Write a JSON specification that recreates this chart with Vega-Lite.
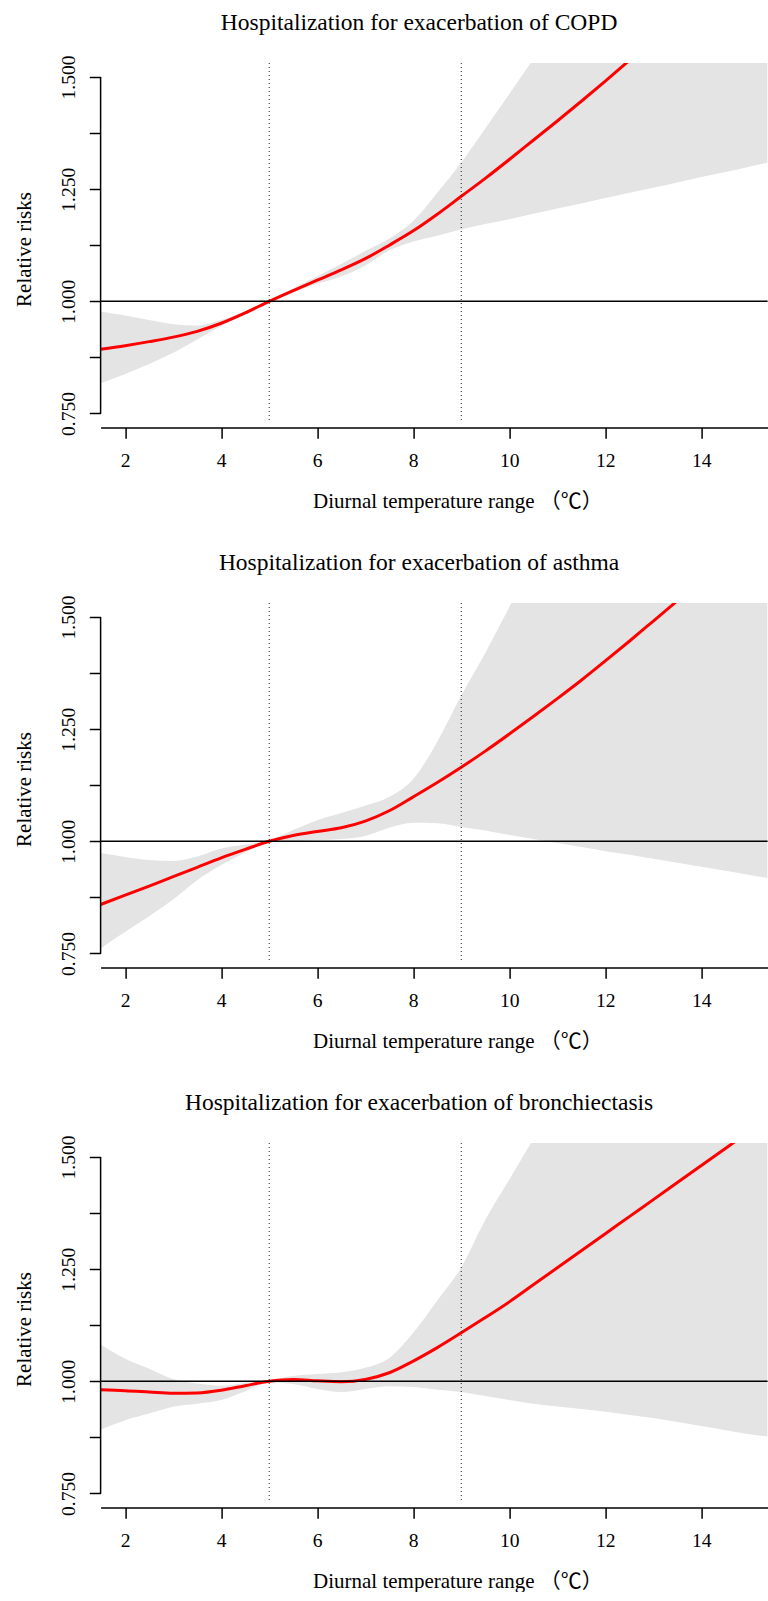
{
  "$schema": "https://vega.github.io/schema/vega-lite/v6.json",
  "background": "white",
  "padding": {"left": 13.6, "top": 11, "right": 0, "bottom": 0},
  "config": {
    "view": {"stroke": null},
    "font": "Liberation Serif",
    "axis": {"grid": false, "domainColor": "black", "tickColor": "black", "labelColor": "black", "titleColor": "black", "labelFont": "Liberation Serif", "titleFont": "Liberation Serif, Noto Sans CJK SC", "labelFontSize": 19.6, "titleFontSize": 21, "titleFontWeight": "normal", "tickWidth": 1.5, "domainWidth": 1.5},
    "title": {"font": "Liberation Serif", "fontSize": 23.5, "fontWeight": "normal", "color": "black", "anchor": "middle", "frame": "group", "baseline": "alphabetic", "offset": 20, "dx": -15}
  },
  "datasets": {
    "curves": [
      {"panel":"COPD","x":1.488,"rr":0.893,"lo":0.817,"hi":0.977},
      {"panel":"COPD","x":2,"rr":0.901,"lo":0.838,"hi":0.968},
      {"panel":"COPD","x":2.5,"rr":0.910,"lo":0.860,"hi":0.958},
      {"panel":"COPD","x":3,"rr":0.920,"lo":0.885,"hi":0.949},
      {"panel":"COPD","x":3.5,"rr":0.933,"lo":0.915,"hi":0.946},
      {"panel":"COPD","x":4,"rr":0.951,"lo":0.945,"hi":0.958},
      {"panel":"COPD","x":4.5,"rr":0.974,"lo":0.971,"hi":0.978},
      {"panel":"COPD","x":5,"rr":1.000,"lo":0.998,"hi":1.002},
      {"panel":"COPD","x":5.5,"rr":1.024,"lo":1.020,"hi":1.029},
      {"panel":"COPD","x":6,"rr":1.047,"lo":1.039,"hi":1.056},
      {"panel":"COPD","x":6.5,"rr":1.070,"lo":1.055,"hi":1.083},
      {"panel":"COPD","x":7,"rr":1.095,"lo":1.080,"hi":1.112},
      {"panel":"COPD","x":7.5,"rr":1.125,"lo":1.113,"hi":1.140},
      {"panel":"COPD","x":8,"rr":1.157,"lo":1.133,"hi":1.179},
      {"panel":"COPD","x":8.5,"rr":1.194,"lo":1.146,"hi":1.242},
      {"panel":"COPD","x":9,"rr":1.234,"lo":1.160,"hi":1.309},
      {"panel":"COPD","x":9.5,"rr":1.274,"lo":1.172,"hi":1.385},
      {"panel":"COPD","x":10,"rr":1.316,"lo":1.183,"hi":1.462},
      {"panel":"COPD","x":10.5,"rr":1.359,"lo":1.195,"hi":1.540},
      {"panel":"COPD","x":11,"rr":1.402,"lo":1.207,"hi":1.618},
      {"panel":"COPD","x":11.5,"rr":1.446,"lo":1.218,"hi":1.696},
      {"panel":"COPD","x":12,"rr":1.491,"lo":1.230,"hi":1.774},
      {"panel":"COPD","x":12.5,"rr":1.537,"lo":1.242,"hi":1.852},
      {"panel":"COPD","x":13,"rr":1.584,"lo":1.253,"hi":1.930},
      {"panel":"COPD","x":13.5,"rr":1.632,"lo":1.265,"hi":2.008},
      {"panel":"COPD","x":14,"rr":1.681,"lo":1.277,"hi":2.086},
      {"panel":"COPD","x":14.5,"rr":1.731,"lo":1.288,"hi":2.164},
      {"panel":"COPD","x":15,"rr":1.782,"lo":1.300,"hi":2.242},
      {"panel":"COPD","x":15.38,"rr":1.821,"lo":1.309,"hi":2.300},
      {"panel":"asthma","x":1.488,"rr":0.859,"lo":0.761,"hi":0.974},
      {"panel":"asthma","x":2,"rr":0.880,"lo":0.798,"hi":0.965},
      {"panel":"asthma","x":2.5,"rr":0.900,"lo":0.833,"hi":0.958},
      {"panel":"asthma","x":3,"rr":0.921,"lo":0.870,"hi":0.956},
      {"panel":"asthma","x":3.5,"rr":0.942,"lo":0.913,"hi":0.966},
      {"panel":"asthma","x":4,"rr":0.963,"lo":0.947,"hi":0.984},
      {"panel":"asthma","x":4.5,"rr":0.982,"lo":0.975,"hi":0.993},
      {"panel":"asthma","x":5,"rr":1.000,"lo":0.998,"hi":1.002},
      {"panel":"asthma","x":5.5,"rr":1.013,"lo":1.000,"hi":1.025},
      {"panel":"asthma","x":6,"rr":1.022,"lo":1.002,"hi":1.047},
      {"panel":"asthma","x":6.5,"rr":1.030,"lo":1.005,"hi":1.063},
      {"panel":"asthma","x":7,"rr":1.045,"lo":1.012,"hi":1.079},
      {"panel":"asthma","x":7.5,"rr":1.068,"lo":1.030,"hi":1.099},
      {"panel":"asthma","x":8,"rr":1.099,"lo":1.041,"hi":1.139},
      {"panel":"asthma","x":8.5,"rr":1.131,"lo":1.040,"hi":1.222},
      {"panel":"asthma","x":9,"rr":1.165,"lo":1.032,"hi":1.325},
      {"panel":"asthma","x":9.5,"rr":1.201,"lo":1.024,"hi":1.420},
      {"panel":"asthma","x":10,"rr":1.239,"lo":1.014,"hi":1.522},
      {"panel":"asthma","x":10.5,"rr":1.278,"lo":1.005,"hi":1.620},
      {"panel":"asthma","x":11,"rr":1.318,"lo":0.996,"hi":1.720},
      {"panel":"asthma","x":11.5,"rr":1.359,"lo":0.987,"hi":1.820},
      {"panel":"asthma","x":12,"rr":1.402,"lo":0.978,"hi":1.920},
      {"panel":"asthma","x":12.5,"rr":1.446,"lo":0.970,"hi":2.000},
      {"panel":"asthma","x":13,"rr":1.491,"lo":0.961,"hi":2.100},
      {"panel":"asthma","x":13.5,"rr":1.536,"lo":0.952,"hi":2.200},
      {"panel":"asthma","x":14,"rr":1.581,"lo":0.943,"hi":2.300},
      {"panel":"asthma","x":14.5,"rr":1.626,"lo":0.934,"hi":2.400},
      {"panel":"asthma","x":15,"rr":1.671,"lo":0.925,"hi":2.500},
      {"panel":"asthma","x":15.38,"rr":1.705,"lo":0.918,"hi":2.550},
      {"panel":"bronch","x":1.488,"rr":0.981,"lo":0.892,"hi":1.082},
      {"panel":"bronch","x":2,"rr":0.979,"lo":0.913,"hi":1.050},
      {"panel":"bronch","x":2.5,"rr":0.976,"lo":0.928,"hi":1.028},
      {"panel":"bronch","x":3,"rr":0.973,"lo":0.943,"hi":1.005},
      {"panel":"bronch","x":3.5,"rr":0.974,"lo":0.950,"hi":0.995},
      {"panel":"bronch","x":4,"rr":0.980,"lo":0.958,"hi":0.990},
      {"panel":"bronch","x":4.5,"rr":0.990,"lo":0.978,"hi":0.996},
      {"panel":"bronch","x":5,"rr":1.000,"lo":0.997,"hi":1.003},
      {"panel":"bronch","x":5.5,"rr":1.004,"lo":0.994,"hi":1.012},
      {"panel":"bronch","x":6,"rr":1.001,"lo":0.983,"hi":1.016},
      {"panel":"bronch","x":6.5,"rr":0.999,"lo":0.976,"hi":1.020},
      {"panel":"bronch","x":7,"rr":1.004,"lo":0.983,"hi":1.030},
      {"panel":"bronch","x":7.5,"rr":1.019,"lo":0.989,"hi":1.052},
      {"panel":"bronch","x":8,"rr":1.045,"lo":0.987,"hi":1.108},
      {"panel":"bronch","x":8.5,"rr":1.075,"lo":0.981,"hi":1.180},
      {"panel":"bronch","x":9,"rr":1.108,"lo":0.976,"hi":1.254},
      {"panel":"bronch","x":9.5,"rr":1.142,"lo":0.967,"hi":1.360},
      {"panel":"bronch","x":10,"rr":1.177,"lo":0.958,"hi":1.450},
      {"panel":"bronch","x":10.5,"rr":1.215,"lo":0.950,"hi":1.540},
      {"panel":"bronch","x":11,"rr":1.253,"lo":0.944,"hi":1.630},
      {"panel":"bronch","x":11.5,"rr":1.291,"lo":0.938,"hi":1.720},
      {"panel":"bronch","x":12,"rr":1.329,"lo":0.932,"hi":1.810},
      {"panel":"bronch","x":12.5,"rr":1.367,"lo":0.925,"hi":1.900},
      {"panel":"bronch","x":13,"rr":1.405,"lo":0.918,"hi":2.000},
      {"panel":"bronch","x":13.5,"rr":1.443,"lo":0.909,"hi":2.100},
      {"panel":"bronch","x":14,"rr":1.481,"lo":0.900,"hi":2.200},
      {"panel":"bronch","x":14.5,"rr":1.519,"lo":0.891,"hi":2.300},
      {"panel":"bronch","x":15,"rr":1.557,"lo":0.882,"hi":2.400},
      {"panel":"bronch","x":15.38,"rr":1.586,"lo":0.877,"hi":2.450}
    ]
  },
  "data": {"name": "curves"},
  "spacing": 180,
  "bounds": "flush",
  "vconcat": [
    {
      "title": {"text": "Hospitalization for exacerbation of COPD"},
      "width": 667, "height": 360,
      "layer": [
        {"transform": [{"filter": "datum.panel == 'COPD'"}],
         "mark": {"type": "area", "color": "#e4e4e4", "opacity": 1, "clip": true, "interpolate": "monotone"},
         "encoding": {
           "x": {"field": "x", "type": "quantitative", "title": "Diurnal temperature range （℃）", "scale": {"domain": [1.488, 15.38], "nice": false, "zero": false},
                 "axis": {"values": [2,4,6,8,10,12,14], "offset": 4.5, "tickSize": 10.7, "labelPadding": 28, "labelBaseline": "alphabetic", "labelFlush": false, "titleBaseline": "alphabetic", "titleAlign": "left", "titleY": 80, "titleX": 212}},
           "y": {"field": "lo", "type": "quantitative", "title": "Relative risks", "scale": {"domain": [0.7286, 1.5312], "nice": false, "zero": false},
                 "axis": {"values": [0.75,0.875,1,1.125,1.25,1.375,1.5], "domain": false, "tickSize": 11.3, "labelAngle": 270, "labelAlign": "center", "labelBaseline": "alphabetic", "labelPadding": 14.4, "labelOverlap": false, "labelFlush": false, "labelExpr": "(datum.value*8)%2==0 ? format(datum.value,'.3f') : ''", "titleAngle": 270, "titleAlign": "center", "titleBaseline": "alphabetic", "titleX": -69.7, "titleY": 186}},
           "y2": {"field": "hi"}
         }},
        {"transform": [{"filter": "datum.panel == 'COPD'"}],
         "mark": {"type": "line", "color": "#ff0000", "strokeWidth": 3, "clip": true, "interpolate": "monotone"},
         "encoding": {"x": {"field": "x", "type": "quantitative", "title": "Diurnal temperature range （℃）"}, "y": {"field": "rr", "type": "quantitative", "title": "Relative risks"}}},
        {"data": {"values": [{}]}, "mark": {"type": "rule", "color": "black", "strokeWidth": 1.5}, "encoding": {"y": {"datum": 1}}},
        {"data": {"values": [{}]}, "mark": {"type": "rule", "color": "#222222", "strokeWidth": 1, "strokeDash": [1, 3]}, "encoding": {"x": {"datum": 5}}},
        {"data": {"values": [{}]}, "mark": {"type": "rule", "color": "#222222", "strokeWidth": 1, "strokeDash": [1, 3]}, "encoding": {"x": {"datum": 9}}},
        {"data": {"values": [{}]}, "mark": {"type": "rule", "color": "black", "strokeWidth": 1.5}, "encoding": {"x": {"datum": 1.488}, "y": {"datum": 0.75}, "y2": {"datum": 1.5}}}
      ]
    },
    {
      "title": {"text": "Hospitalization for exacerbation of asthma"},
      "width": 667, "height": 360,
      "layer": [
        {"transform": [{"filter": "datum.panel == 'asthma'"}],
         "mark": {"type": "area", "color": "#e4e4e4", "opacity": 1, "clip": true, "interpolate": "monotone"},
         "encoding": {
           "x": {"field": "x", "type": "quantitative", "title": "Diurnal temperature range （℃）", "scale": {"domain": [1.488, 15.38], "nice": false, "zero": false},
                 "axis": {"values": [2,4,6,8,10,12,14], "offset": 4.5, "tickSize": 10.7, "labelPadding": 28, "labelBaseline": "alphabetic", "labelFlush": false, "titleBaseline": "alphabetic", "titleAlign": "left", "titleY": 80, "titleX": 212}},
           "y": {"field": "lo", "type": "quantitative", "title": "Relative risks", "scale": {"domain": [0.7286, 1.5312], "nice": false, "zero": false},
                 "axis": {"values": [0.75,0.875,1,1.125,1.25,1.375,1.5], "domain": false, "tickSize": 11.3, "labelAngle": 270, "labelAlign": "center", "labelBaseline": "alphabetic", "labelPadding": 14.4, "labelOverlap": false, "labelFlush": false, "labelExpr": "(datum.value*8)%2==0 ? format(datum.value,'.3f') : ''", "titleAngle": 270, "titleAlign": "center", "titleBaseline": "alphabetic", "titleX": -69.7, "titleY": 186}},
           "y2": {"field": "hi"}
         }},
        {"transform": [{"filter": "datum.panel == 'asthma'"}],
         "mark": {"type": "line", "color": "#ff0000", "strokeWidth": 3, "clip": true, "interpolate": "monotone"},
         "encoding": {"x": {"field": "x", "type": "quantitative", "title": "Diurnal temperature range （℃）"}, "y": {"field": "rr", "type": "quantitative", "title": "Relative risks"}}},
        {"data": {"values": [{}]}, "mark": {"type": "rule", "color": "black", "strokeWidth": 1.5}, "encoding": {"y": {"datum": 1}}},
        {"data": {"values": [{}]}, "mark": {"type": "rule", "color": "#222222", "strokeWidth": 1, "strokeDash": [1, 3]}, "encoding": {"x": {"datum": 5}}},
        {"data": {"values": [{}]}, "mark": {"type": "rule", "color": "#222222", "strokeWidth": 1, "strokeDash": [1, 3]}, "encoding": {"x": {"datum": 9}}},
        {"data": {"values": [{}]}, "mark": {"type": "rule", "color": "black", "strokeWidth": 1.5}, "encoding": {"x": {"datum": 1.488}, "y": {"datum": 0.75}, "y2": {"datum": 1.5}}}
      ]
    },
    {
      "title": {"text": "Hospitalization for exacerbation of bronchiectasis"},
      "width": 667, "height": 360,
      "layer": [
        {"transform": [{"filter": "datum.panel == 'bronch'"}],
         "mark": {"type": "area", "color": "#e4e4e4", "opacity": 1, "clip": true, "interpolate": "monotone"},
         "encoding": {
           "x": {"field": "x", "type": "quantitative", "title": "Diurnal temperature range （℃）", "scale": {"domain": [1.488, 15.38], "nice": false, "zero": false},
                 "axis": {"values": [2,4,6,8,10,12,14], "offset": 4.5, "tickSize": 10.7, "labelPadding": 28, "labelBaseline": "alphabetic", "labelFlush": false, "titleBaseline": "alphabetic", "titleAlign": "left", "titleY": 80, "titleX": 212}},
           "y": {"field": "lo", "type": "quantitative", "title": "Relative risks", "scale": {"domain": [0.7286, 1.5312], "nice": false, "zero": false},
                 "axis": {"values": [0.75,0.875,1,1.125,1.25,1.375,1.5], "domain": false, "tickSize": 11.3, "labelAngle": 270, "labelAlign": "center", "labelBaseline": "alphabetic", "labelPadding": 14.4, "labelOverlap": false, "labelFlush": false, "labelExpr": "(datum.value*8)%2==0 ? format(datum.value,'.3f') : ''", "titleAngle": 270, "titleAlign": "center", "titleBaseline": "alphabetic", "titleX": -69.7, "titleY": 186}},
           "y2": {"field": "hi"}
         }},
        {"transform": [{"filter": "datum.panel == 'bronch'"}],
         "mark": {"type": "line", "color": "#ff0000", "strokeWidth": 3, "clip": true, "interpolate": "monotone"},
         "encoding": {"x": {"field": "x", "type": "quantitative", "title": "Diurnal temperature range （℃）"}, "y": {"field": "rr", "type": "quantitative", "title": "Relative risks"}}},
        {"data": {"values": [{}]}, "mark": {"type": "rule", "color": "black", "strokeWidth": 1.5}, "encoding": {"y": {"datum": 1}}},
        {"data": {"values": [{}]}, "mark": {"type": "rule", "color": "#222222", "strokeWidth": 1, "strokeDash": [1, 3]}, "encoding": {"x": {"datum": 5}}},
        {"data": {"values": [{}]}, "mark": {"type": "rule", "color": "#222222", "strokeWidth": 1, "strokeDash": [1, 3]}, "encoding": {"x": {"datum": 9}}},
        {"data": {"values": [{}]}, "mark": {"type": "rule", "color": "black", "strokeWidth": 1.5}, "encoding": {"x": {"datum": 1.488}, "y": {"datum": 0.75}, "y2": {"datum": 1.5}}}
      ]
    }
  ]
}
